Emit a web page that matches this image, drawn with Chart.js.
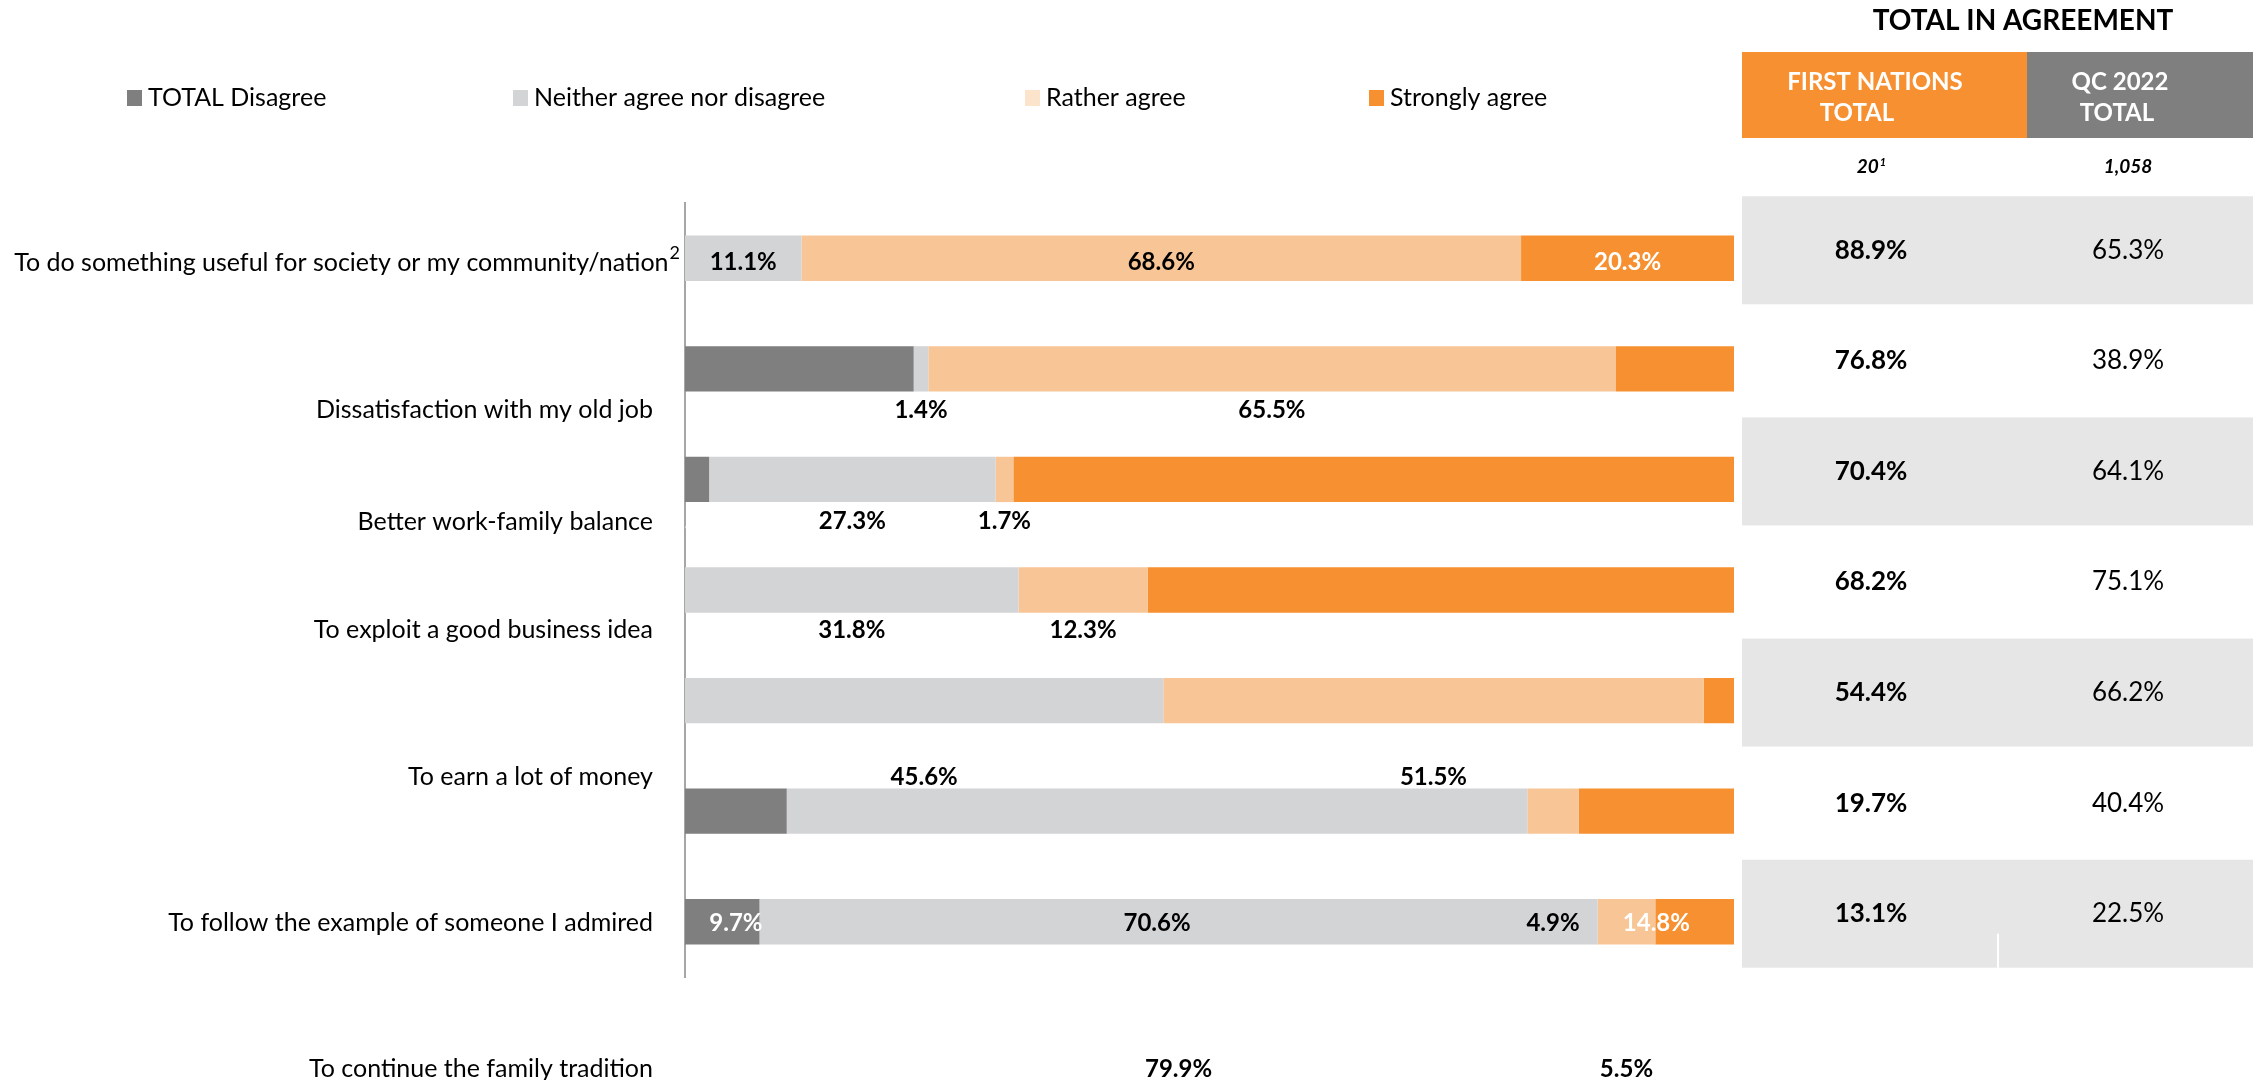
<!DOCTYPE html>
<html>
<head>
<meta charset="utf-8">
<title>Reasons for starting a business</title>
<script src="https://cdn.jsdelivr.net/npm/chart.js@4.4.1/dist/chart.umd.min.js"></script>
<style>
  html, body { margin: 0; padding: 0; background: #ffffff; }
</style>
</head>
<body>
<canvas id="chart" width="2262" height="1080"></canvas>
<script>
// --- DATA ---
const categories = [
    'To do something useful for society or my community/nation',
    'Dissatisfaction with my old job',
    'Better work-family balance',
    'To exploit a good business idea',
    'To earn a lot of money',
    'To follow the example of someone I admired',
    'To continue the family tradition'
];
const categoryNotes = ['2', '', '', '', '', '', ''];

const seriesNames = ['TOTAL Disagree', 'Neither agree nor disagree', 'Rather agree', 'Strongly agree'];
const totalDisagree = [0, 21.8, 2.3, 0, 0, 9.7, 7.1];
const neitherAgree  = [11.1, 1.4, 27.3, 31.8, 45.6, 70.6, 79.9];
const ratherAgree   = [68.6, 65.5, 1.7, 12.3, 51.5, 4.9, 5.5];
const stronglyAgree = [20.3, 11.3, 68.7, 55.9, 2.9, 14.8, 7.5];

const tableTitle = 'TOTAL IN AGREEMENT';
const columnHeads = [['FIRST NATIONS', 'TOTAL'], ['QC 2022', 'TOTAL']];
const sampleSizes = ['20', '1,058'];
const sampleNotes = ['1', ''];
const firstNationsTotal = [88.9, 76.8, 70.4, 68.2, 54.4, 19.7, 13.1];
const qc2022Total       = [65.3, 38.9, 64.1, 75.1, 66.2, 40.4, 22.5];

// --- STYLE ---
const FONT = 'Lato, "Open Sans", sans-serif';
const COLORS = ['#7f7f7f', '#d3d4d6', '#f8c597', '#f79030'];
const LEGEND_BOX = ['#7f7f7f', '#d3d4d6', '#fbe3cc', '#f79030'];
const LABEL_COLORS = ['#ffffff', '#000000', '#000000', '#ffffff'];
const LEGEND_X = [127, 513, 1025, 1369];
const LEGEND_Y = 98;
// the text rows sit lower than their bars (in category bands)
const TEXT_SHIFT = [0.04, 0.37, 0.38, 0.36, 0.69, 1.01, 1.33];
const LABEL_RIGHT = 653;
const TABLE = {
    left: 1742, mid: 2027, right: 2253,
    headTop: 52, headBottom: 138,
    colX: [1871, 2128],
    headX: [[1875, 1857], [2120, 2117]],
    headY: [82, 113],
    sizeY: 167,
    titleX: 2023, titleY: 21,
    rowShift: -8, rowHalf: 54
};

function pct(v) { return v.toFixed(1) + '%'; }

// text followed by a small raised note, centred or right-aligned
function noteText(c, text, note, x, y, align, font, noteFont, noteRise) {
    c.font = font;
    const w = c.measureText(text).width;
    c.font = noteFont;
    const wn = note ? c.measureText(note).width : 0;
    let start = align === 'right' ? x - w - wn : x - (w + wn) / 2;
    c.textAlign = 'left';
    c.font = font;
    c.fillText(text, start, y);
    if (note) {
        c.font = noteFont;
        c.fillText(note, start + w + 1, y - noteRise);
    }
}

// --- OVERLAY: legend, row labels, value labels, table ---
const overlay = {
    id: 'overlay',
    afterDatasetsDraw(chart) {
        const c = chart.ctx;
        const yScale = chart.scales.y;
        c.save();
        c.textBaseline = 'middle';

        // legend
        chart.data.datasets.forEach((ds, d) => {
            c.fillStyle = LEGEND_BOX[d];
            c.fillRect(LEGEND_X[d], LEGEND_Y - 8, 15, 16);
            c.fillStyle = '#000000';
            c.font = '25px ' + FONT;
            c.textAlign = 'left';
            c.fillText(ds.label, LEGEND_X[d] + 21, LEGEND_Y);
        });

        // category labels
        c.fillStyle = '#000000';
        chart.data.labels.forEach((lab, i) => {
            const y = yScale.getPixelForValue(i + TEXT_SHIFT[i]);
            const note = categoryNotes[i];
            noteText(c, lab, note, note ? LABEL_RIGHT + 26 : LABEL_RIGHT, y, 'right',
                '25px ' + FONT, '18px ' + FONT, 10);
        });

        // segment value labels
        c.font = 'bold 24px ' + FONT;
        c.textAlign = 'center';
        chart.data.datasets.forEach((ds, d) => {
            const meta = chart.getDatasetMeta(d);
            meta.data.forEach((el, i) => {
                const v = ds.data[i];
                if (!v) return;
                const y = yScale.getPixelForValue(i + TEXT_SHIFT[i]);
                c.fillStyle = LABEL_COLORS[d];
                c.fillText(pct(v), (el.x + el.base) / 2, y);
            });
        });

        // table title and header cells
        c.fillStyle = '#000000';
        c.font = 'bold 28px ' + FONT;
        c.textAlign = 'center';
        c.fillText(tableTitle, TABLE.titleX, TABLE.titleY);

        c.fillStyle = COLORS[3];
        c.fillRect(TABLE.left, TABLE.headTop, TABLE.mid - TABLE.left, TABLE.headBottom - TABLE.headTop);
        c.fillStyle = COLORS[0];
        c.fillRect(TABLE.mid, TABLE.headTop, TABLE.right - TABLE.mid, TABLE.headBottom - TABLE.headTop);
        c.fillStyle = '#ffffff';
        c.font = 'bold 24px ' + FONT;
        columnHeads.forEach((lines, k) => {
            lines.forEach((ln, j) => c.fillText(ln, TABLE.headX[k][j], TABLE.headY[j]));
        });

        // sample sizes
        c.fillStyle = '#000000';
        sampleSizes.forEach((s, k) => {
            noteText(c, s, sampleNotes[k], TABLE.colX[k], TABLE.sizeY, 'center',
                'italic bold 19px ' + FONT, 'italic bold 11px ' + FONT, 5);
        });

        // rows
        firstNationsTotal.forEach((v, i) => {
            const cy = yScale.getPixelForValue(i) + TABLE.rowShift;
            if (i % 2 === 0) {
                c.fillStyle = '#e6e6e6';
                c.fillRect(TABLE.left, cy - TABLE.rowHalf, TABLE.right - TABLE.left, TABLE.rowHalf * 2);
            }
            if (i === firstNationsTotal.length - 1) {
                c.fillStyle = '#ffffff';
                c.fillRect(1997, cy + 20, 2, TABLE.rowHalf - 20);
            }
            c.fillStyle = '#000000';
            c.textAlign = 'center';
            c.font = 'bold 26px ' + FONT;
            c.fillText(pct(v), TABLE.colX[0], cy);
            c.font = '26px ' + FONT;
            c.fillText(pct(qc2022Total[i]), TABLE.colX[1], cy);
        });

        c.restore();
    }
};

// --- CHART ---
const seriesValues = [totalDisagree, neitherAgree, ratherAgree, stronglyAgree];

const chart = new Chart(document.getElementById('chart'), {
    type: 'bar',
    data: {
        labels: categories,
        datasets: seriesValues.map((vals, d) => ({
            label: seriesNames[d],
            data: vals,
            backgroundColor: COLORS[d],
            borderWidth: 0,
            barPercentage: 0.41,
            categoryPercentage: 1
        }))
    },
    options: {
        indexAxis: 'y',
        responsive: false,
        animation: false,
        layout: { padding: { left: 685, right: 528, top: 203, bottom: 103 } },
        scales: {
            x: { stacked: true, min: 0, max: 100, display: false },
            y: {
                stacked: true,
                ticks: { display: false },
                grid: { display: false, drawTicks: false },
                border: { display: true, color: '#a6a6a6', width: 2 },
                afterFit(s) { s.width = 0; }
            }
        },
        plugins: {
            legend: { display: false },
            tooltip: { enabled: false }
        }
    },
    plugins: [overlay]
});
</script>
</body>
</html>
